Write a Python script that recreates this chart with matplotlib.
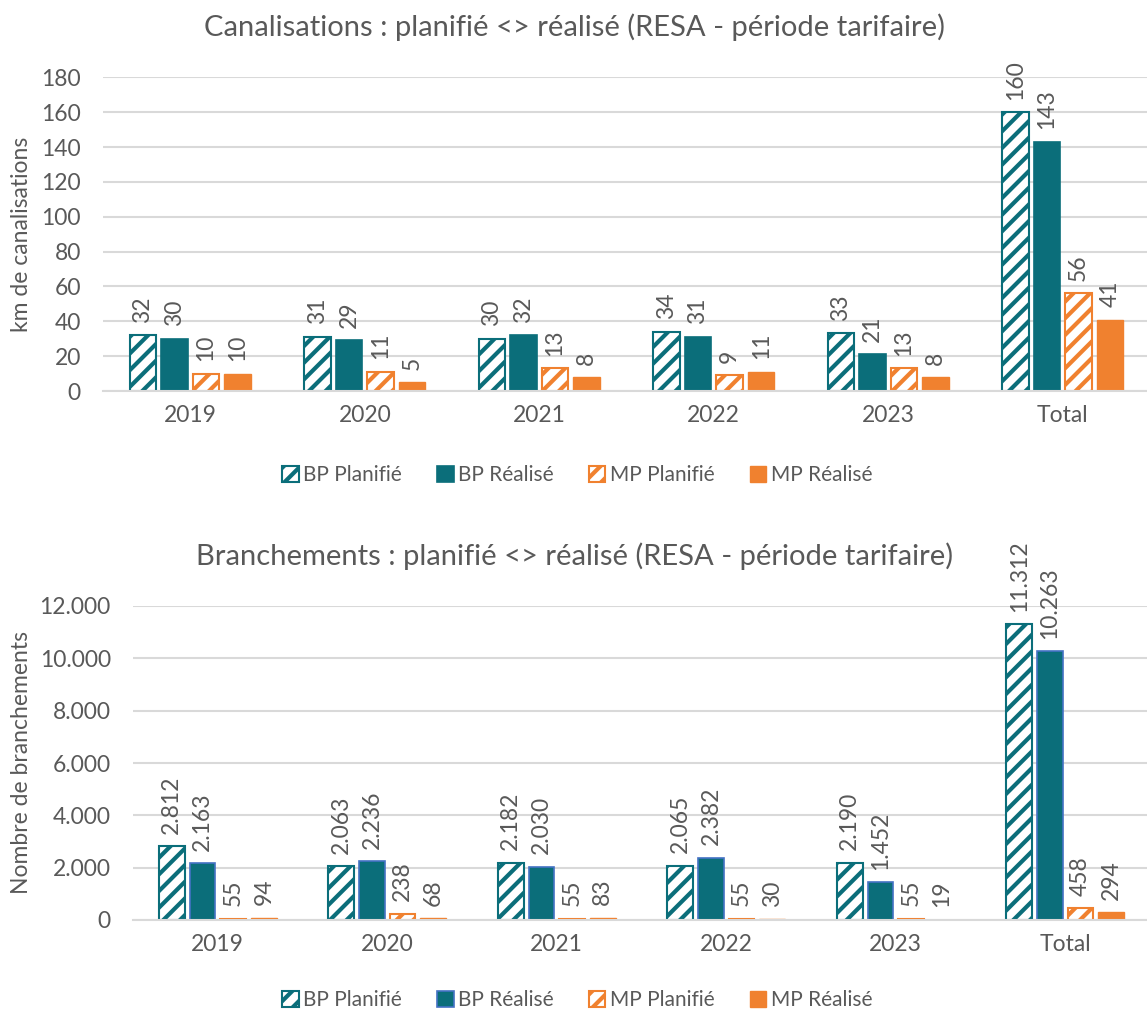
import matplotlib
matplotlib.use("Agg")
import matplotlib.pyplot as plt
from matplotlib.patches import Patch
import numpy as np

plt.rcParams['font.family'] = ['Lato', 'DejaVu Sans']
plt.rcParams['hatch.linewidth'] = 3.0

categories = ["2019", "2020", "2021", "2022", "2023", "Total"]
series = ["BP Planifié", "BP Réalisé", "MP Planifié", "MP Réalisé"]

can_bp_plan = [32, 31, 30, 34, 33, 160]
can_bp_real = [30, 29, 32, 31, 21, 143]
can_mp_plan = [10, 11, 13, 9, 13, 56]
can_mp_real = [10, 5, 8, 11, 8, 41]

br_bp_plan = [2812, 2063, 2182, 2065, 2190, 11312]
br_bp_real = [2163, 2236, 2030, 2382, 1452, 10263]
br_mp_plan = [55, 238, 55, 55, 55, 458]
br_mp_real = [94, 68, 83, 30, 19, 294]

title_top = "Canalisations : planifié <> réalisé (RESA - période tarifaire)"
title_bot = "Branchements : planifié <> réalisé (RESA - période tarifaire)"
ylabel_top = "km de canalisations"
ylabel_bot = "Nombre de branchements"

TEAL = "#0B6E7A"
ORANGE = "#F0812F"
TXT = "#595959"
GRID = "#D9D9D9"
BLUE_EDGE = "#4472C4"

FS = 16.5

W, H = 1147, 1014
fig = plt.figure(figsize=(W / 100, H / 100), dpi=100)

def fmt(v):
    return f"{v:,.0f}".replace(",", ".")

def draw(ax, data, ymax, ystep, blue_edge):
    x = np.arange(len(categories))
    bw = 0.152
    pitch = 0.181
    offs = (np.arange(4) - 1.5) * pitch
    styles = [
        dict(facecolor="white", edgecolor=TEAL, hatch="//", linewidth=1.5),
        dict(facecolor=TEAL, edgecolor=BLUE_EDGE if blue_edge else TEAL, linewidth=1.2),
        dict(facecolor="white", edgecolor=ORANGE, hatch="//", linewidth=1.5),
        dict(facecolor=ORANGE, edgecolor=ORANGE, linewidth=1.0),
    ]
    for i, vals in enumerate(data):
        bars = ax.bar(x + offs[i], vals, bw, zorder=3, **styles[i])
        for b, v in zip(bars, vals):
            ax.annotate(fmt(v), (b.get_x() + b.get_width() / 2, v),
                        xytext=(0, 9), textcoords="offset points",
                        rotation=90, ha="center", va="bottom",
                        fontsize=FS, color=TXT, annotation_clip=False)
    ax.set_xlim(-0.5, len(categories) - 0.5)
    ax.set_ylim(0, ymax)
    ax.set_yticks(np.arange(0, ymax + 1, ystep))
    ax.set_yticklabels([fmt(v) for v in np.arange(0, ymax + 1, ystep)])
    ax.set_xticks(x)
    ax.set_xticklabels(categories)
    ax.tick_params(axis="both", length=0, colors=TXT, labelsize=FS)
    ax.tick_params(axis="x", pad=10)
    ax.tick_params(axis="y", pad=16)
    for s in ["top", "right", "left"]:
        ax.spines[s].set_visible(False)
    ax.spines["bottom"].set_color(GRID)
    ax.spines["bottom"].set_linewidth(1.5)
    ax.spines["bottom"].set_zorder(4)
    ax.yaxis.grid(True, color=GRID, linewidth=1.5, zorder=0)
    ax.set_axisbelow(True)

def leg_handles(blue_edge):
    return [
        Patch(facecolor="white", edgecolor=TEAL, hatch="//", linewidth=1.5, label=series[0]),
        Patch(facecolor=TEAL, edgecolor=BLUE_EDGE if blue_edge else TEAL, linewidth=1.2, label=series[1]),
        Patch(facecolor="white", edgecolor=ORANGE, hatch="//", linewidth=1.5, label=series[2]),
        Patch(facecolor=ORANGE, edgecolor=ORANGE, label=series[3]),
    ]

ax1 = fig.add_axes([103 / W, 1 - 391 / H, (1150 - 103) / W, (391 - 77.3) / H])
draw(ax1, [can_bp_plan, can_bp_real, can_mp_plan, can_mp_real], 180, 20, False)
ax1.set_ylabel(ylabel_top, fontsize=16.5, color=TXT)
ax1.yaxis.set_label_coords(-71 / (1150 - 103), 0.5)

ax2 = fig.add_axes([133 / W, 1 - 920 / H, (1150 - 133) / W, (920 - 606) / H])
draw(ax2, [br_bp_plan, br_bp_real, br_mp_plan, br_mp_real], 12000, 2000, True)
ax2.set_ylabel(ylabel_bot, fontsize=16.5, color=TXT)
ax2.yaxis.set_label_coords(-101 / (1150 - 133), 0.5)

fig.text(575 / W, 1 - 27 / H, title_top, ha="center", va="center", fontsize=21, color=TXT)
fig.text(575 / W, 1 - 556 / H, title_bot, ha="center", va="center", fontsize=21, color=TXT)

for yc, be in [(475, False), (1000, True)]:
    fig.legend(handles=leg_handles(be), loc="center", bbox_to_anchor=(577 / W, 1 - yc / H),
               ncol=4, frameon=False, fontsize=15, labelcolor=TXT,
               handlelength=0.8, handleheight=0.8, handletextpad=0.2, columnspacing=1.7)

fig.savefig("out.png", dpi=100)
